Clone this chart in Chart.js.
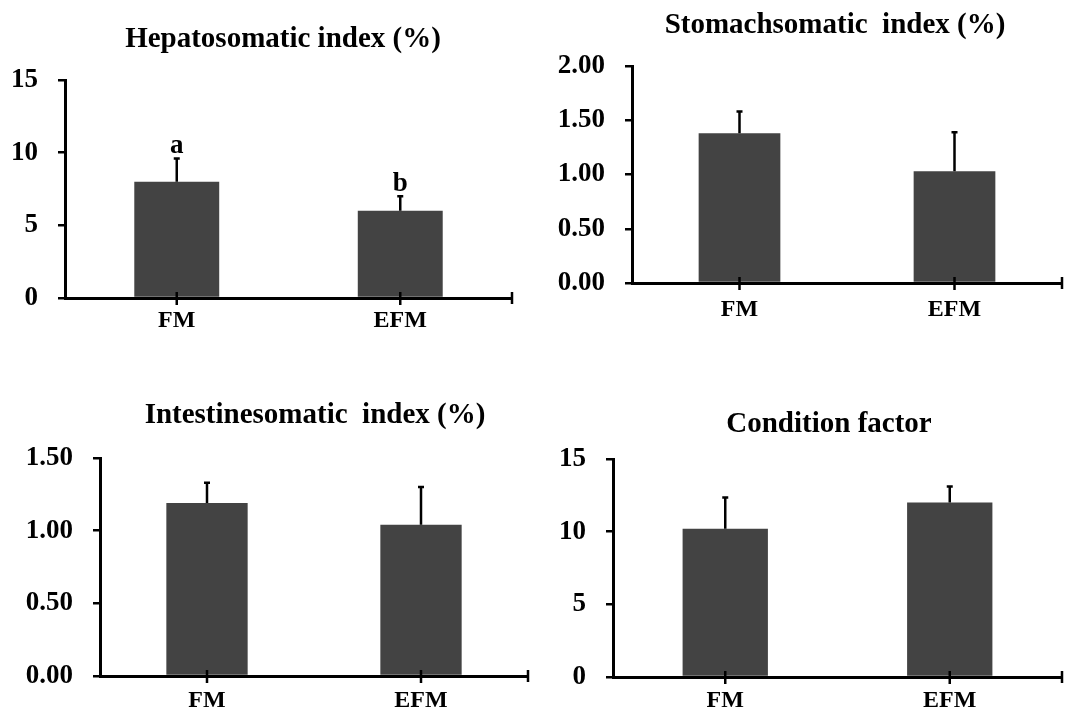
<!DOCTYPE html>
<html lang="en">
<head>
<meta charset="UTF-8">
<title>Organ indices</title>
<script src="https://cdn.jsdelivr.net/npm/chart.js"></script>
<style>
  body { margin: 0; background: #fff; }
  .panel { position: absolute; }
</style>
</head>
<body>
<div class="panel" style="left:0;top:0;width:530px;height:345px"><canvas id="c1"></canvas></div>
<div class="panel" style="left:540px;top:0;width:525px;height:345px"><canvas id="c2"></canvas></div>
<div class="panel" style="left:0;top:380px;width:535px;height:335px"><canvas id="c3"></canvas></div>
<div class="panel" style="left:540px;top:380px;width:525px;height:335px"><canvas id="c4"></canvas></div>

<script>
// data (mean and upper SD)
var categories = ['FM', 'EFM'];

var hsiMean = [8.0, 6.0];
var hsiSd = [1.6, 1.0];
var hsiLetters = ['a', 'b'];
var hsiTicks = [0, 5, 10, 15];

var ssiMean = [1.38, 1.03];
var ssiSd = [0.20, 0.36];
var ssiTicks = [0, 0.5, 1.0, 1.5, 2.0];

var isiMean = [1.19, 1.04];
var isiSd = [0.14, 0.26];
var isiTicks = [0, 0.5, 1.0, 1.5];

var cfMean = [10.2, 12.0];
var cfSd = [2.15, 1.1];
var cfTicks = [0, 5, 10, 15];

var FONT = '"Liberation Serif", "Times New Roman", serif';

// title, error bars, letters and the cross ticks on the x axis
var decor = {
    id: 'decor',
    afterDraw: function (chart, args, o) {
        var ctx = chart.ctx;
        var a = chart.chartArea;
        var xs = chart.scales.x, ys = chart.scales.y;
        ctx.save();
        ctx.fillStyle = '#000';
        ctx.strokeStyle = '#000';

        ctx.font = 'bold 29px ' + FONT;
        ctx.textAlign = 'center';
        ctx.textBaseline = 'alphabetic';
        ctx.fillText(o.title, o.titleX, o.titleY);

        ctx.lineWidth = 2.5;
        ctx.beginPath();
        for (var i = 0; i < categories.length; i++) {
            var x = xs.getPixelForValue(i);
            ctx.moveTo(x, a.bottom - 6);
            ctx.lineTo(x, a.bottom + 7);
        }
        ctx.moveTo(a.right, a.bottom - 6);
        ctx.lineTo(a.right, a.bottom + 6);
        ctx.stroke();

        var bars = chart.getDatasetMeta(0).data;
        ctx.lineWidth = 2.5;
        ctx.font = 'bold 27px ' + FONT;
        for (var j = 0; j < bars.length; j++) {
            var bx = bars[j].x;
            var y0 = ys.getPixelForValue(o.mean[j]);
            var y1 = ys.getPixelForValue(o.mean[j] + o.sd[j]);
            ctx.beginPath();
            ctx.moveTo(bx, y0);
            ctx.lineTo(bx, y1);
            ctx.moveTo(bx - 3, y1);
            ctx.lineTo(bx + 3, y1);
            ctx.stroke();
            if (o.letters) {
                ctx.fillText(o.letters[j], bx, y1 - 5);
            }
        }
        ctx.restore();
    }
};

function makeChart(id, p) {
    var ticks = p.ticks;
    var box = p.box;
    new Chart(document.getElementById(id), {
        type: 'bar',
        data: {
            labels: categories,
            datasets: [{
                data: p.mean,
                backgroundColor: '#434343',
                borderWidth: 0,
                categoryPercentage: 1.0,
                barPercentage: 0.38
            }]
        },
        options: {
            responsive: true,
            maintainAspectRatio: false,
            animation: false,
            layout: {
                padding: { top: p.area.top, right: box.w - p.area.right, bottom: 0, left: 0 }
            },
            plugins: {
                legend: { display: false },
                tooltip: { enabled: false },
                decor: {
                    title: p.title, titleX: p.titleX, titleY: p.titleY,
                    mean: p.mean, sd: p.sd, letters: p.letters
                }
            },
            scales: {
                x: {
                    z: 1,
                    grid: { display: false },
                    border: { color: '#000', width: 3 },
                    ticks: { color: '#000', padding: p.xPad, font: { family: FONT, size: 24, weight: 'bold' } },
                    afterFit: function (axis) { axis.height = box.h - p.area.bottom; }
                },
                y: {
                    z: 1,
                    min: ticks[0],
                    max: ticks[ticks.length - 1],
                    afterBuildTicks: function (axis) {
                        axis.ticks = ticks.map(function (v) { return { value: v }; });
                    },
                    grid: { drawOnChartArea: false, drawTicks: true, tickLength: 7, color: '#000', lineWidth: 2.5 },
                    border: { color: '#000', width: 3 },
                    ticks: {
                        color: '#000',
                        padding: 20,
                        font: { family: FONT, size: 27, weight: 'bold' },
                        callback: function (v) { return v.toFixed(p.decimals); }
                    },
                    afterFit: function (axis) { axis.width = p.area.left; }
                }
            }
        },
        plugins: [decor]
    });
}

makeChart('c1', {
    box: { w: 530, h: 345 },
    area: { left: 65, right: 512, top: 80, bottom: 298 },
    title: 'Hepatosomatic index (%)', titleX: 283, titleY: 47,
    mean: hsiMean, sd: hsiSd, letters: hsiLetters, ticks: hsiTicks, decimals: 0, xPad: 0
});
makeChart('c2', {
    box: { w: 525, h: 345 },
    area: { left: 92, right: 522, top: 66, bottom: 283 },
    title: 'Stomachsomatic  index (%)', titleX: 295, titleY: 33,
    mean: ssiMean, sd: ssiSd, letters: null, ticks: ssiTicks, decimals: 2, xPad: 4
});
makeChart('c3', {
    box: { w: 535, h: 335 },
    area: { left: 100, right: 528, top: 78, bottom: 296 },
    title: 'Intestinesomatic  index (%)', titleX: 315, titleY: 43,
    mean: isiMean, sd: isiSd, letters: null, ticks: isiTicks, decimals: 2, xPad: 2
});
makeChart('c4', {
    box: { w: 525, h: 335 },
    area: { left: 73, right: 522, top: 79, bottom: 297 },
    title: 'Condition factor', titleX: 289, titleY: 52,
    mean: cfMean, sd: cfSd, letters: null, ticks: cfTicks, decimals: 0, xPad: 1
});
</script>
</body>
</html>
